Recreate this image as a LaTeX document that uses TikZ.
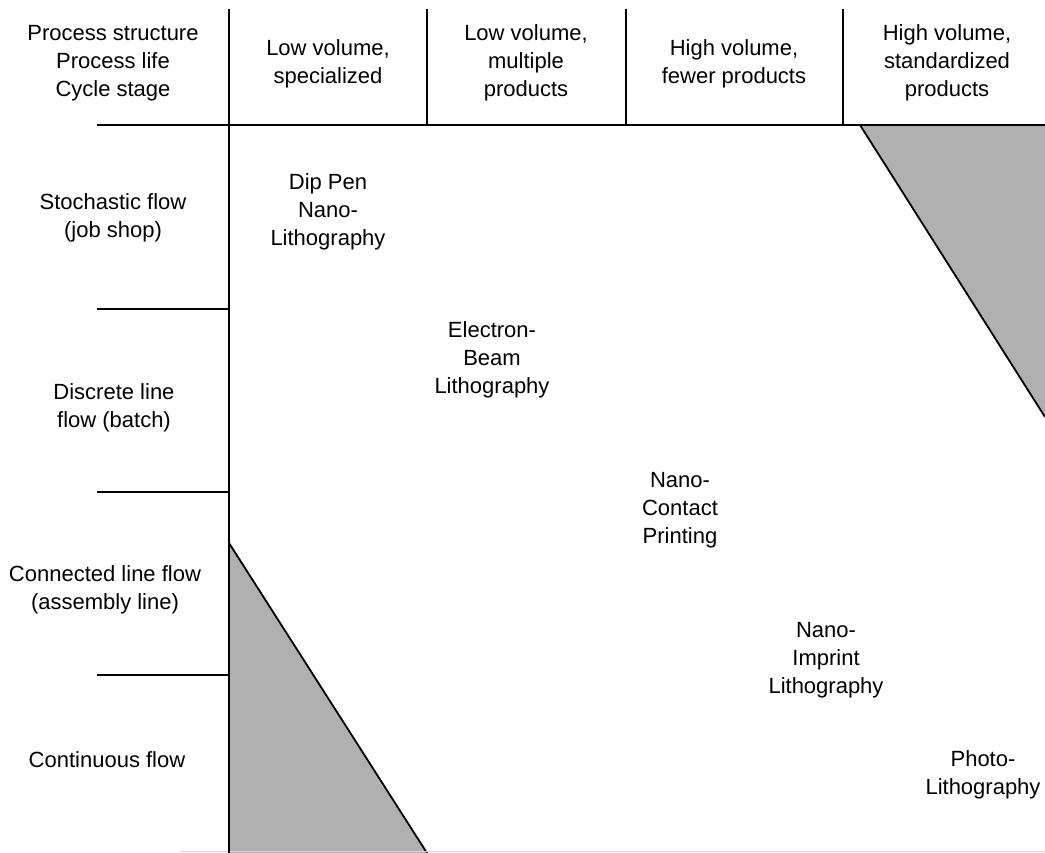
\documentclass[tikz,border=0pt]{standalone}
\usepackage{fontspec}
\setmainfont{Liberation Sans}
\definecolor{shade}{RGB}{176,176,176}
\definecolor{faint}{RGB}{215,215,215}
\begin{document}
\begin{tikzpicture}[x=1pt,y=-1pt,
  rule/.style={line width=1.8pt, black},
  lbl/.style={align=center, font=\fontsize{22}{28}\selectfont, inner sep=0pt},
  zone/.style={fill=shade, draw=none}
]
\useasboundingbox (0,0) rectangle (1045,853);
% shaded regions
\fill[zone] (860,125) -- (1045,125) -- (1045,417) -- cycle;
\fill[zone] (229,543) -- (229,853) -- (427,853) -- cycle;
\draw[rule] (860,125) -- (1045,417);
\draw[rule] (229,543) -- (427,853);
% faint bottom edge
\draw[faint, line width=1pt] (180,851) -- (1045,851);
% grid lines
\draw[rule] (97,125) -- (1045,125);
\draw[rule] (229,9) -- (229,853);
\draw[rule] (427,9) -- (427,125);
\draw[rule] (626,9) -- (626,125);
\draw[rule] (843,9) -- (843,125);
\draw[rule] (97,309) -- (229,309);
\draw[rule] (97,492) -- (229,492);
\draw[rule] (97,675) -- (229,675);
% header
\node[lbl] (h0) at (113,63) {Process structure\\Process life\\Cycle stage};
\node[lbl] (h1) at (328,64) {Low volume,\\specialized};
\node[lbl] (h2) at (526,63) {Low volume,\\multiple\\products};
\node[lbl] (h3) at (734,64) {High volume,\\fewer products};
\node[lbl] (h4) at (947,63) {High volume,\\standardized\\products};
% rows
\node[lbl] (r1) at (113,218) {Stochastic flow\\(job shop)};
\node[lbl] (r2) at (114,408) {Discrete line\\flow (batch)};
\node[lbl] (r3) at (105,590) {Connected line flow\\(assembly line)};
\node[lbl] (r4) at (107,760) {Continuous flow};
% processes
\node[lbl] (p1) at (328,212) {Dip Pen\\Nano-\\Lithography};
\node[lbl] (p2) at (492,360) {Electron-\\Beam\\Lithography};
\node[lbl] (p3) at (680,510) {Nano-\\Contact\\Printing};
\node[lbl] (p4) at (826,660) {Nano-\\Imprint\\Lithography};
\node[lbl] (p5) at (983,775) {Photo-\\Lithography};
\end{tikzpicture}
\end{document}
